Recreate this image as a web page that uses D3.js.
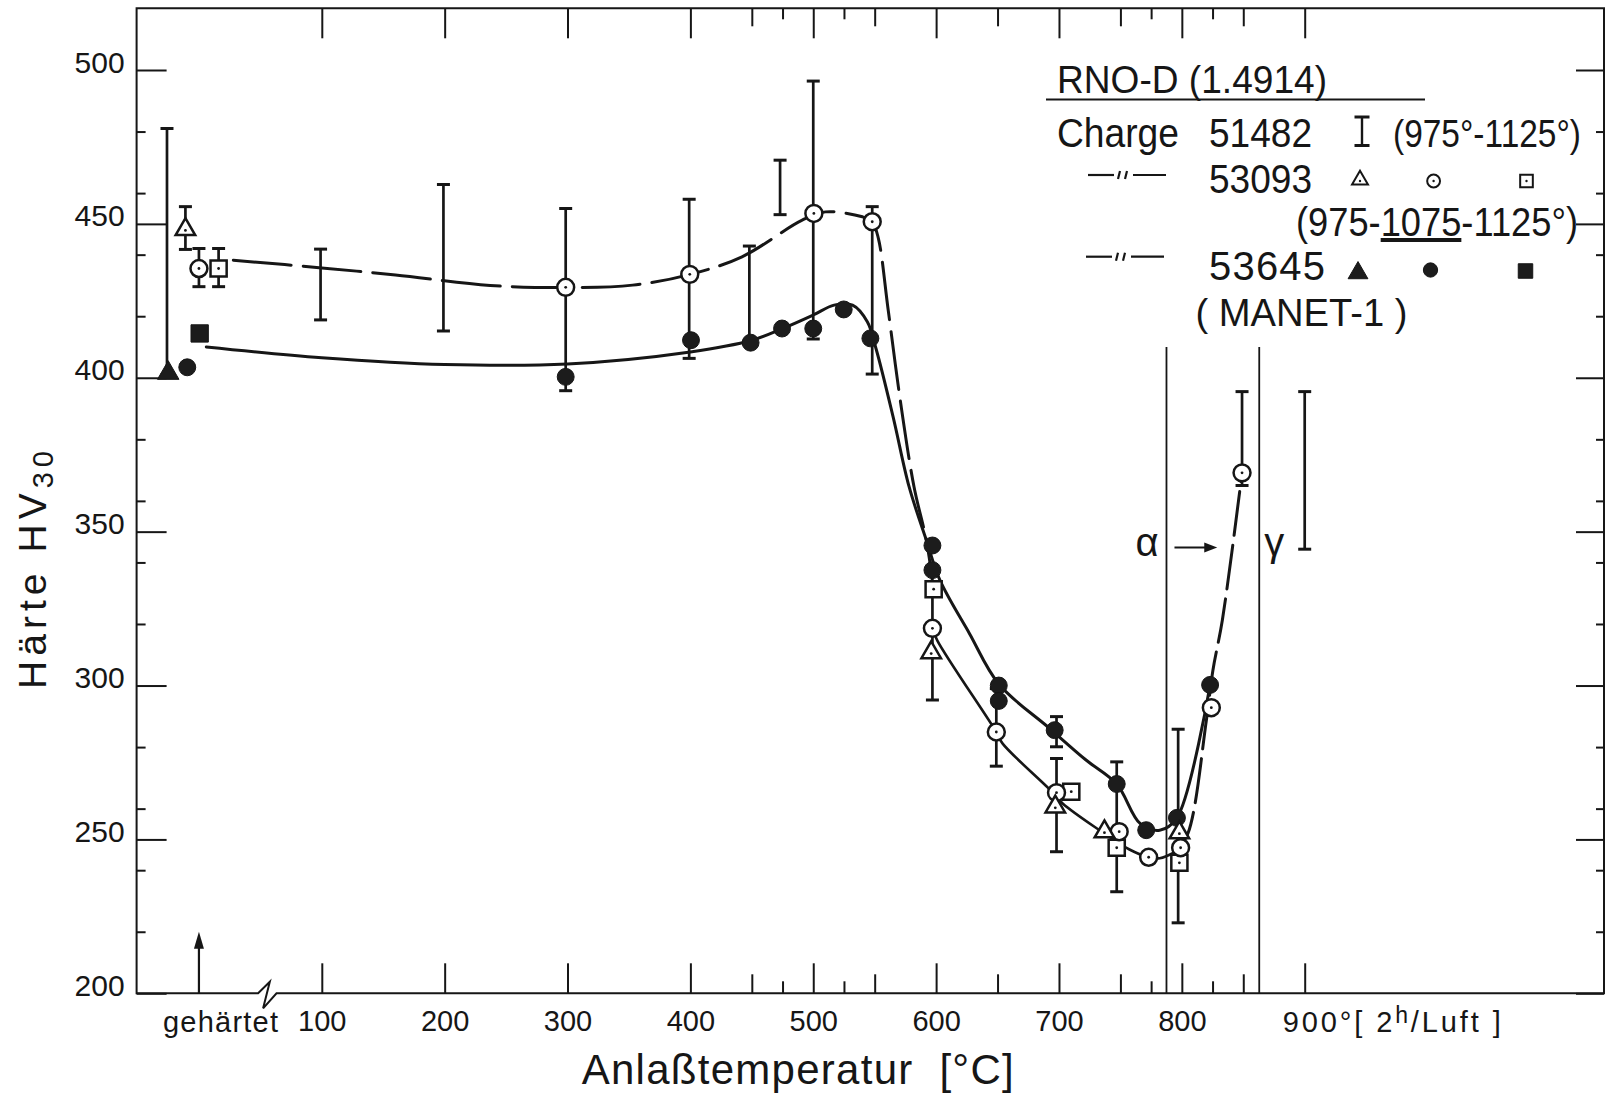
<!DOCTYPE html>
<html>
<head>
<meta charset="utf-8">
<title>RNO-D Anlassschaubild</title>
<script src="https://cdn.jsdelivr.net/npm/d3@7"></script>
<style>
  body { margin: 0; background: #fff; }
  svg { display: block; }
  text { font-family: "Liberation Sans", Arial, sans-serif; fill: #161616; white-space: pre; }
  .frame, .ticks line { stroke: #161616; stroke-width: 2; fill: none; }
</style>
</head>
<body>
<svg id="chart" width="1607" height="1099"></svg>
<script>
// ---- ticks and labels
const xMajor = [100, 200, 300, 400, 500, 600, 700, 800, 900];
const xMid = [450, 550, 650, 750, 850];
const xMinor = [475, 525, 775, 825];
const xLabels = ['100', '200', '300', '400', '500', '600', '700', '800'];
const yMajor = [200, 250, 300, 350, 400, 450, 500];
const yMinor = [220, 240, 260, 280, 320, 340, 360, 380, 420, 440, 460, 480];

// "gehaertet" (as hardened) sits at 0 on the temperature scale,
// values a bit below / above 0 spread the symbols of that state sideways
const hardenedT = 0;

// Charge 53093, hardened 975 / 1075 / 1125 deg (open symbols) [T, HV30]
const tri53093 = [[-11, 448.2], [596, 310.7], [697, 260.6], [737, 252.5], [798, 252.2]];
const circ53093 = [[0, 435.5], [298.5, 429.4], [399.5, 433.6], [500.5, 453.4], [548, 450.7], [597, 318.6],
  [649, 284.9], [698, 265.2], [749, 252.5], [773, 244.2], [799, 247.3], [824, 292.8], [849, 369.1]];
const sq53093 = [[16, 435.5], [598, 331.3], [710, 265.5], [747, 247.3], [798, 242.4]];

// Charge 53645 (MANET-1), filled symbols
const tri53645 = [[-25, 401.5]];
const circ53645 = [[-9.5, 403.4], [298.5, 400.3], [400.5, 412.2], [449, 411.4], [474.6, 416], [500, 416],
  [524.8, 422.2], [546.5, 412.8], [597, 345.5], [597, 337.5], [651, 300], [651, 295], [696.5, 285.5],
  [747, 268], [771, 253], [796, 257], [823, 300.2]];
const sq53645 = [[0.6, 414.4]];

// scatter bands [T, low, high] (Charge 51482 and single measurements)
const bars = [[-26, 401, 481], [-11, 441.7, 455.6], [0, 429.6, 442], [16, 429.6, 442], [99, 418.8, 441.8],
  [199, 415.2, 462.8], [298.5, 395.8, 455], [399, 406.3, 458], [448, 412, 442.8], [473, 453, 470.7],
  [500, 412.6, 496.4], [548, 401.2, 455.6], [597, 295.3, 331], [649, 273.8, 299], [698, 280.1, 289.9],
  [698, 246, 276.3], [747, 233, 275.2], [797, 222.9, 285.8], [849, 365, 395.5], [900, 344.3, 395.5]];

// drawn curves
const curve53645 = [[6, 410], [100, 406.5], [200, 404.3], [300, 404.5], [400, 408.4], [450, 412.2],
  [475, 416], [500, 420.4], [517, 423.6], [532, 423.6], [544, 418.2], [551, 409.6], [565, 387.3],
  [578, 364.6], [592, 347.3], [603, 334.3], [627, 317], [651, 300.5], [692, 286.2], [722, 275.8],
  [747, 268], [766, 255.2], [782, 253], [796, 257], [823, 300.2]];
const curve53093dash = [[28, 438.2], [100, 435.7], [160, 433.4], [237, 430], [300, 429.3], [353, 430.1],
  [400, 433.6], [442, 439.3], [491, 451.2], [510, 453.9], [540, 452.3], [548, 450.7], [553, 445.3],
  [561, 422], [571, 392.2], [582, 364.6], [592, 347.3], [597, 334]];
const curve53093 = [[597, 318.6], [601, 314.6], [649, 284.9], [654, 281.2], [692, 266.4], [703, 261.7],
  [733, 253], [757, 246.8], [773, 244.2], [782, 243.9], [795, 246]];
const curve53093rise = [[795, 246], [805, 252], [820, 288.8], [825.3, 305], [833, 321.3], [849, 369.1]];

// alpha -> gamma transformation range
const phaseT = [787.5, 863];
const phaseTop = 410;
const phaseLabels = ['α', 'γ'];

// legend
const legendTitle = 'RNO-D (1.4914)';
const charges = ['51482', '53093', '53645'];
const hardening = ['(975°-1125°)', '(975-', '1075', '-1125°)'];

// ---- chart
const svg = d3.select('#chart');
const ink = '#161616';
const frame = {left: 136.6, right: 1604, top: 8.3, bottom: 993.3};

const x = d3.scaleLinear().domain([100, 900]).range([321.8, 1304.7]);
const y = d3.scaleLinear().domain([200, 500]).range([993.3, 70]);

// squeeze or spread a text to the width it has in the drawing
function fit(t, len) {
  const natural = t.node().getComputedTextLength();
  t.attr('textLength', len).attr('lengthAdjust', natural > len ? 'spacingAndGlyphs' : 'spacing');
  return t;
}

// frame, with the axis break between "gehaertet" and 100
const xb = x(55);
svg.append('path').attr('class', 'frame')
  .attr('d', `M${frame.left},${frame.top}V${frame.bottom}H${xb - 8.4}L${xb + 3.3},${frame.bottom - 11.6}` +
    `L${xb - 3.4},${frame.bottom + 15}L${xb + 10},${frame.bottom}H${frame.right}V${frame.top}Z`);

function ticks(axis, values, len, tx, ty) {
  svg.append('g').attr('class', 'ticks').attr('transform', `translate(${tx},${ty})`)
    .call(axis.tickValues(values).tickSizeInner(-len).tickSizeOuter(0).tickFormat(''))
    .call(g => g.select('.domain').remove());
}
ticks(d3.axisBottom(x), xMajor, 30, 0, frame.bottom);
ticks(d3.axisBottom(x), xMid, 19, 0, frame.bottom);
ticks(d3.axisBottom(x), xMinor, 12, 0, frame.bottom);
ticks(d3.axisTop(x), xMajor, 30, 0, frame.top);
ticks(d3.axisTop(x), xMid, 18, 0, frame.top);
ticks(d3.axisTop(x), xMinor, 11, 0, frame.top);
ticks(d3.axisLeft(y), yMajor, 30, frame.left, 0);
ticks(d3.axisLeft(y), yMinor, 9, frame.left, 0);
ticks(d3.axisRight(y), yMajor, 28, frame.right, 0);
ticks(d3.axisRight(y), yMinor, 8, frame.right, 0);

// tick labels
const xl = svg.append('g').attr('transform', `translate(0,${frame.bottom})`)
  .call(d3.axisBottom(x).tickValues(xMajor.slice(0, xLabels.length)).tickSize(0).tickPadding(17.5)
    .tickFormat((d, i) => xLabels[i]));
xl.attr('font-size', 29).select('.domain').remove();

const yl = svg.append('g').attr('transform', `translate(${frame.left},0)`)
  .call(d3.axisLeft(y).tickValues(yMajor).tickSize(0).tickPadding(12));
yl.attr('font-size', 30).select('.domain').remove();
yl.selectAll('text').attr('dy', '0.07em');

fit(svg.append('text').attr('x', 163).attr('y', 1031.7).attr('font-size', 29).text('gehärtet'), 115);

const t900 = svg.append('text').attr('x', x(900) - 22).attr('y', 1031.7).attr('font-size', 29);
t900.append('tspan').text('900°[ 2');
t900.append('tspan').attr('font-size', 23).attr('dy', -9).text('h');
t900.append('tspan').attr('dy', 9).text('/Luft ]');
fit(t900, 218);

// arrow marking the hardened state
svg.append('line').attr('x1', x(hardenedT)).attr('x2', x(hardenedT))
  .attr('y1', frame.bottom).attr('y2', y(220) + 12)
  .attr('stroke', ink).attr('stroke-width', 2.2);
svg.append('path')
  .attr('d', `M${x(hardenedT)},${y(220)}l-5,17h10z`).attr('fill', ink);

// axis titles
fit(svg.append('text').attr('x', 581.7).attr('y', 1083.7).attr('font-size', 42)
  .text('Anlaßtemperatur  [°C]'), 432);

const yt = svg.append('text').attr('transform', 'translate(46,689) rotate(-90)').attr('font-size', 39);
yt.append('tspan').text('Härte HV');
yt.append('tspan').attr('font-size', 29).attr('dy', 7).text('30');
fit(yt, 238);

// curves
const line = d3.line().x(d => x(d[0])).y(d => y(d[1])).curve(d3.curveCatmullRom.alpha(0.5));
const curves = svg.append('g').attr('fill', 'none').attr('stroke', ink).attr('stroke-linecap', 'round');
curves.append('path').attr('d', line(curve53645)).attr('stroke-width', 3);
curves.append('path').attr('d', line(curve53093)).attr('stroke-width', 2.6);
curves.append('path').attr('d', line(curve53093dash)).attr('stroke-width', 3).attr('stroke-dasharray', '58,12');
curves.append('path').attr('d', line(curve53093rise)).attr('stroke-width', 3).attr('stroke-dasharray', '44,10');

// alpha -> gamma lines
const ph = svg.append('g').attr('stroke', ink).attr('stroke-width', 1.8);
ph.selectAll('line').data(phaseT).join('line')
  .attr('x1', d => x(d)).attr('x2', d => x(d))
  .attr('y1', y(phaseTop)).attr('y2', frame.bottom);
svg.append('text').attr('x', x(phaseT[0]) - 31).attr('y', 556).attr('font-size', 40).text(phaseLabels[0]);
svg.append('text').attr('x', x(phaseT[1]) + 5).attr('y', 556).attr('font-size', 40).text(phaseLabels[1]);
svg.append('line').attr('x1', x(phaseT[0]) + 8).attr('x2', x(phaseT[1]) - 52)
  .attr('y1', 547.5).attr('y2', 547.5).attr('stroke', ink).attr('stroke-width', 2);
svg.append('path').attr('d', `M${x(phaseT[1]) - 42},547.5l-13,-5v10z`).attr('fill', ink);

// scatter bands with end caps
function barShape(g, cx, y1, y2, cap) {
  g.append('line').attr('x1', cx).attr('x2', cx).attr('y1', y1).attr('y2', y2);
  g.append('line').attr('x1', cx - cap / 2).attr('x2', cx + cap / 2).attr('y1', y1).attr('y2', y1).attr('stroke-width', 3);
  g.append('line').attr('x1', cx - cap / 2).attr('x2', cx + cap / 2).attr('y1', y2).attr('y2', y2).attr('stroke-width', 3);
}
const barG = svg.append('g').attr('stroke', ink).attr('stroke-width', 2.7);
bars.forEach(d => barShape(barG.append('g'), x(d[0]), y(d[1]), y(d[2]), 13));

// symbols
function openSym(g, data, type, size, dot) {
  const s = g.selectAll(null).data(data).join('g')
    .attr('transform', d => `translate(${x(d[0])},${y(d[1])})`);
  s.append('path').attr('d', d3.symbol().type(type).size(size)())
    .attr('fill', '#fff').attr('stroke', ink).attr('stroke-width', 2.5);
  s.append('circle').attr('cy', dot || 0).attr('r', 1.4).attr('fill', ink);
}
function fillSym(g, data, type, size) {
  g.selectAll(null).data(data).join('path')
    .attr('transform', d => `translate(${x(d[0])},${y(d[1])})`)
    .attr('d', d3.symbol().type(type).size(size)())
    .attr('fill', '#1c1c1c').attr('stroke', ink).attr('stroke-width', 1);
}
const marks = svg.append('g');
fillSym(marks, circ53645, d3.symbolCircle, 225);
fillSym(marks, sq53645, d3.symbolSquare, 300);
fillSym(marks, tri53645, d3.symbolTriangle, 200);
openSym(marks, sq53093, d3.symbolSquare, 260, 0);
openSym(marks, circ53093, d3.symbolCircle, 225, 0);
openSym(marks, tri53093, d3.symbolTriangle, 165, 1);

// legend
const lg = svg.append('g');
function ltext(txt, px, py, len, fs) {
  return fit(lg.append('text').attr('x', px).attr('y', py).attr('font-size', fs).text(txt), len);
}
ltext(legendTitle, 1057, 92.7, 270, 38);
lg.append('line').attr('x1', 1046).attr('x2', 1425).attr('y1', 99.5).attr('y2', 99.5)
  .attr('stroke', ink).attr('stroke-width', 2.2);

ltext('Charge', 1057, 146.7, 122, 40);
ltext(charges[0], 1209, 146.7, 103, 40);
barShape(lg.append('g').attr('stroke', ink).attr('stroke-width', 2.4), 1362, 117, 145.5, 15);
ltext(hardening[0], 1393, 146.7, 188, 39);

function ditto(px, py) {
  const g = lg.append('g').attr('stroke', ink).attr('stroke-width', 2.2).attr('fill', 'none');
  g.append('line').attr('x1', px).attr('x2', px + 26).attr('y1', py).attr('y2', py);
  g.append('line').attr('x1', px + 32).attr('x2', px + 30).attr('y1', py - 4).attr('y2', py + 4);
  g.append('line').attr('x1', px + 39).attr('x2', px + 37).attr('y1', py - 4).attr('y2', py + 4);
  g.append('line').attr('x1', px + 45).attr('x2', px + 78).attr('y1', py).attr('y2', py);
}
ditto(1088, 175);
ltext(charges[1], 1209, 193.3, 103, 40);

const row4 = lg.append('text').attr('x', 1296).attr('y', 236).attr('font-size', 40);
row4.append('tspan').text(hardening[1]);
row4.append('tspan').style('text-decoration', 'underline').text(hardening[2]);
row4.append('tspan').text(hardening[3]);
fit(row4, 282);

ditto(1086, 256.7);
ltext(charges[2], 1209, 280, 116, 40);
ltext('( MANET-1 )', 1195.5, 326, 212, 39);

function legendSym(px, py, type, size, filled) {
  const g = lg.append('g').attr('transform', `translate(${px},${py})`);
  g.append('path').attr('d', d3.symbol().type(type).size(size)())
    .attr('fill', filled ? '#1c1c1c' : '#fff').attr('stroke', ink).attr('stroke-width', filled ? 1 : 2);
  if (!filled) g.append('circle').attr('r', 1.2).attr('cy', type === d3.symbolTriangle ? 1 : 0).attr('fill', ink);
}
legendSym(1360, 180, d3.symbolTriangle, 110, false);
legendSym(1433.6, 181, d3.symbolCircle, 130, false);
legendSym(1526.5, 181, d3.symbolSquare, 160, false);
legendSym(1358, 273, d3.symbolTriangle, 170, true);
legendSym(1430.5, 270, d3.symbolCircle, 160, true);
legendSym(1525.5, 271, d3.symbolSquare, 210, true);
</script>
</body>
</html>
